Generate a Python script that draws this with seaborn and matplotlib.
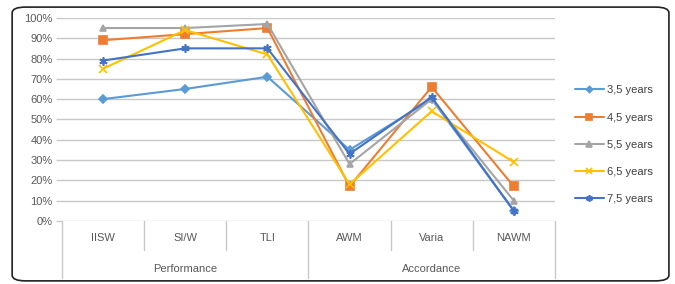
import pandas as pd
import matplotlib.pyplot as plt
import seaborn as sns
from matplotlib.patches import FancyBboxPatch
from matplotlib.ticker import PercentFormatter

categories = ['IISW', 'SI/W', 'TLI', 'AWM', 'Varia', 'NAWM']
groups = ['Performance', 'Accordance']
series_names = ['3,5 years', '4,5 years', '5,5 years', '6,5 years', '7,5 years']
v_35 = [60, 65, 71, 35, 60, 5]
v_45 = [89, 92, 95, 17, 66, 17]
v_55 = [95, 95, 97, 28, 60, 10]
v_65 = [75, 94, 82, 18, 54, 29]
v_75 = [79, 85, 85, 33, 61, 5]

rows = []
for name, vals in zip(series_names, [v_35, v_45, v_55, v_65, v_75]):
    for cat, v in zip(categories, vals):
        rows.append({'category': cat, 'series': name, 'value': v})
df = pd.DataFrame(rows)

sns.set_theme(style="white")
plt.rcParams['font.family'] = ['Liberation Sans', 'DejaVu Sans']

colors = ['#5B9BD5', '#ED7D31', '#A5A5A5', '#FFC000', '#4472C4']
markers = ['D', 's', '^', 'x', (6, 2, 0)]
sizes = [4, 6, 5, 5.5, 6]

fig = plt.figure(figsize=(6.75, 2.84), dpi=100)
ax = fig.add_axes([0.092, 0.222, 0.730, 0.715])

for i, name in enumerate(series_names):
    sub = df[df['series'] == name]
    sns.lineplot(data=sub, x='category', y='value', ax=ax, color=colors[i],
                 marker=markers[i], markersize=sizes[i], markeredgecolor=colors[i],
                 markeredgewidth=1.2, linewidth=1.5, label=name, sort=False)

ax.set_xlim(-0.5, 5.5)
ax.set_ylim(0, 100)
ax.set_yticks(range(0, 101, 10))
ax.yaxis.set_major_formatter(PercentFormatter(decimals=0))
ax.grid(axis='y', color='#C8C8C8', linewidth=1)
ax.set_axisbelow(True)
for s in ax.spines.values():
    s.set_visible(False)
ax.set_xlabel('')
ax.set_ylabel('')
ax.tick_params(axis='y', labelsize=8, labelcolor='#595959', length=4,
               color='#C8C8C8', width=1, pad=3, left=True)
ax.set_xticks(range(len(categories)))
ax.set_xticklabels([])
ax.tick_params(axis='x', length=0)

tr = ax.get_xaxis_transform()
for i, cat in enumerate(categories):
    ax.text(i, -0.085, cat, transform=tr, ha='center', va='center',
            fontsize=8, color='#595959')
for gi, g in enumerate(groups):
    ax.text(gi * 3 + 1, -0.235, g, transform=tr, ha='center', va='center',
            fontsize=8, color='#595959')
for xb in [-0.5, 0.5, 1.5, 2.5, 3.5, 4.5, 5.5]:
    low = -0.28 if xb in (-0.5, 2.5, 5.5) else -0.145
    ax.plot([xb, xb], [0, low], transform=tr, color='#C8C8C8', linewidth=1,
            clip_on=False)

leg = ax.legend(loc='center left', bbox_to_anchor=(1.02, 0.375), frameon=False,
                fontsize=8, handlelength=2.6, labelspacing=1.55,
                handletextpad=0.3, markerscale=0.8)
for t in leg.get_texts():
    t.set_color('#404040')

border = FancyBboxPatch((0.018, 0.011), 0.973, 0.964, boxstyle='round,pad=0,rounding_size=0.02',
                        transform=fig.transFigure, fill=False, edgecolor='#222222',
                        linewidth=1.2)
fig.patches.append(border)

fig.savefig('out.png', dpi=100)
